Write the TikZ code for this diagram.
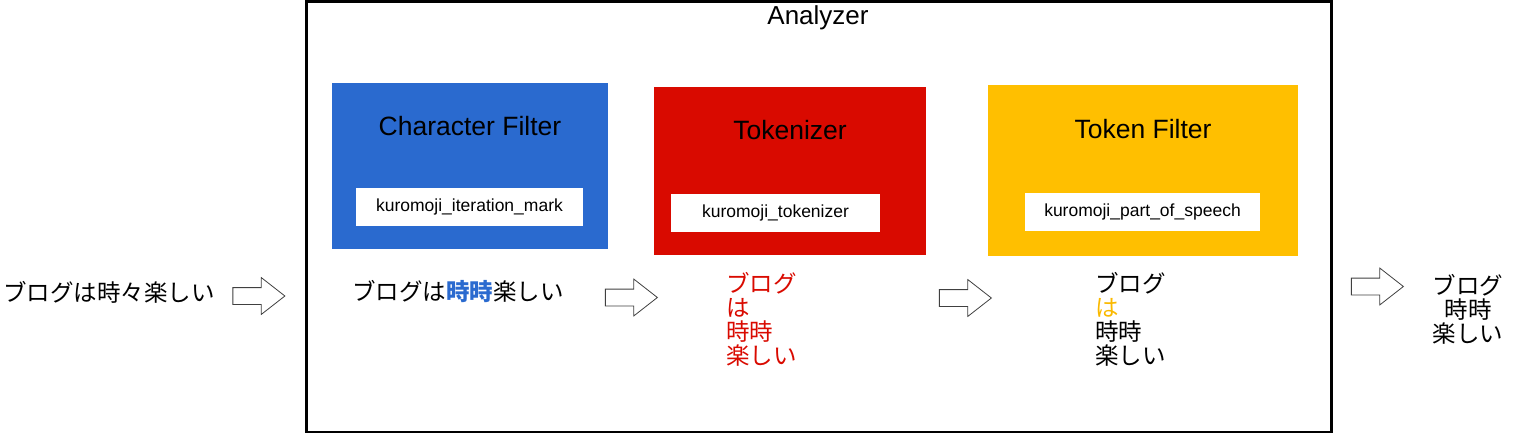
\documentclass[tikz,border=0pt]{standalone}
\usepackage{fontspec}
\setmainfont{Liberation Sans}
\newfontfamily\jpfont{Noto Sans CJK JP}
\usetikzlibrary{shapes.arrows}

\definecolor{cfblue}{RGB}{42,106,207}
\definecolor{tkred}{RGB}{217,10,0}
\definecolor{tfyellow}{RGB}{255,191,0}
\definecolor{haorange}{RGB}{250,185,0}

\begin{document}
\begin{tikzpicture}[
    x=1pt, y=-1pt,
    every node/.style = {inner sep=0pt, outer sep=0pt},
    stage/.style   = {draw=none, minimum height=168pt},
    title/.style   = {font=\fontsize{26.5}{30}\selectfont},
    module/.style  = {fill=white, minimum height=38pt, text height=12pt, text depth=3.5pt,
                      font=\fontsize{17.5}{20}\selectfont},
    jp/.style      = {font=\jpfont\fontsize{23.5}{24}\selectfont},
    flow/.style    = {single arrow, draw=black!75, line width=0.8pt, fill=white,
                      inner xsep=0pt, inner ysep=8pt,
                      minimum height=52pt, single arrow head extend=10pt,
                      single arrow tip angle=76}
]
\useasboundingbox (0,0) rectangle (1526,433);

% analyzer frame
\node[draw, line width=3pt, minimum width=1025pt, minimum height=430pt] (analyzer) at (818.5,217) {};
\node[title, font=\fontsize{26}{30}\selectfont] (antitle) at (818,18) {Analyzer};

% stages
\node[stage, fill=cfblue, minimum width=276pt, minimum height=166pt] (cf) at (470,166) {};
\node[stage, fill=tkred, minimum width=272pt] (tk) at (790,171) {};
\node[stage, fill=tfyellow, minimum width=310pt, minimum height=171pt] (tf) at (1143,170.5) {};

\node[title] (cftitle) at (470,126) {Character Filter};
\node[title] (tktitle) at (790,130) {Tokenizer};
\node[title] (tftitle) at (1143,129) {Token Filter};

\node[module, minimum width=227pt] (cfmod) at (469.5,207) {kuromoji\_iteration\_mark};
\node[module, minimum width=209pt] (tkmod) at (775.5,213) {kuromoji\_tokenizer};
\node[module, minimum width=235pt] (tfmod) at (1142.5,212) {kuromoji\_part\_of\_speech};

% text at each step
\node[jp, anchor=west] (input) at (3,292) {ブログは時々楽しい};
\node[jp, anchor=west] (cfout) at (352,292) {ブログは{\bfseries\color{cfblue}時時}楽しい};
\node[jp, anchor=north west, align=left, text=tkred] (tkout) at (726,272) {ブログ\\は\\時時\\楽しい};
\node[jp, anchor=north west, align=left] (tfout) at (1095,272) {ブログ\\{\color{haorange}は}\\時時\\楽しい};
\node[jp, anchor=north, align=center] (output) at (1468,274) {ブログ\\時時\\楽しい};

% block arrows
\node[flow] (a1) at (253.5,296) {};
\node[flow] (a2) at (626,297.5) {};
\node[flow] (a3) at (960,298) {};
\node[flow] (a4) at (1372,286.5) {};

\end{tikzpicture}
\end{document}
